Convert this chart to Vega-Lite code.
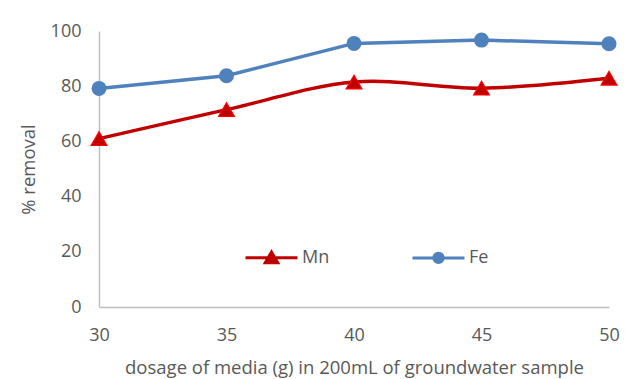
{
  "$schema": "https://vega.github.io/schema/vega-lite/v6.json",
  "autosize": "none",
  "width": 510,
  "height": 276,
  "padding": {"left": 99, "top": 31, "right": 28, "bottom": 72},
  "background": "white",
  "config": {
    "view": {"stroke": null},
    "font": "Open Sans",
    "axis": {
      "grid": false,
      "ticks": false,
      "domainColor": "#BFBFBF",
      "domainWidth": 1.5,
      "labelColor": "#595959",
      "titleColor": "#595959",
      "labelFont": "Open Sans",
      "titleFont": "Open Sans",
      "labelFontSize": 18,
      "titleFontSize": 18.5,
      "titleFontWeight": "normal",
      "labelFlush": false
    }
  },
  "data": {
    "values": [
      {"dose": 30, "element": "Mn", "removal": 61},
      {"dose": 35, "element": "Mn", "removal": 71.5},
      {"dose": 40, "element": "Mn", "removal": 81.5},
      {"dose": 45, "element": "Mn", "removal": 79.3},
      {"dose": 50, "element": "Mn", "removal": 82.9},
      {"dose": 30, "element": "Fe", "removal": 79.2},
      {"dose": 35, "element": "Fe", "removal": 83.8},
      {"dose": 40, "element": "Fe", "removal": 95.5},
      {"dose": 45, "element": "Fe", "removal": 96.7},
      {"dose": 50, "element": "Fe", "removal": 95.4}
    ]
  },
  "encoding": {
    "x": {
      "field": "dose",
      "type": "quantitative",
      "scale": {"domain": [30, 50], "nice": false, "zero": false},
      "axis": {"values": [30, 35, 40, 45, 50], "labelPadding": 19, "title": "dosage of media (g) in 200mL of groundwater sample", "titlePadding": 14}
    },
    "y": {
      "field": "removal",
      "type": "quantitative",
      "scale": {"domain": [0, 100], "nice": false},
      "axis": {"values": [0, 20, 40, 60, 80, 100], "labelPadding": 18, "title": "% removal", "titlePadding": 12}
    },
    "color": {
      "field": "element",
      "type": "nominal",
      "scale": {"domain": ["Mn", "Fe"], "range": ["#C00000", "#4F81BD"]}
    }
  },
  "layer": [
    {
      "transform": [{"filter": "datum.element === 'Mn'"}],
      "mark": {"type": "line", "strokeWidth": 3.5, "interpolate": "cardinal", "tension": 0},
      "encoding": {
        "color": {
          "field": "element",
          "type": "nominal",
          "scale": {"domain": ["Mn", "Fe"], "range": ["#C00000", "#4F81BD"]},
          "legend": {
            "orient": "none",
            "legendX": 145,
            "legendY": 199,
            "direction": "horizontal",
            "title": null,
            "padding": 0,
            "symbolSize": 2704,
            "symbolStrokeWidth": 3,
            "labelOffset": 3,
            "columnPadding": 76,
            "labelFontSize": 18,
            "labelFont": "Open Sans",
            "labelColor": "#595959",
            "encode": {
              "symbols": {
                "update": {
                  "shape": {"signal": "datum.value === 'Mn' ? 'M-1,0H1M0,-0.22L0.24,0.19L-0.24,0.19Z' : 'M-1,0H1M-0.18,0A0.18,0.18 0 1,0 0.18,0A0.18,0.18 0 1,0 -0.18,0Z'"},
                  "fill": {"signal": "datum.value === 'Mn' ? '#C00000' : '#4F81BD'"},
                  "stroke": {"signal": "datum.value === 'Mn' ? '#C00000' : '#4F81BD'"},
                  "strokeWidth": {"value": 3},
                  "opacity": {"value": 1}
                }
              }
            }
          }
        }
      }
    },
    {
      "transform": [{"filter": "datum.element === 'Fe'"}],
      "mark": {"type": "line", "strokeWidth": 3.5},
      "encoding": {}
    },
    {
      "transform": [{"filter": "datum.element === 'Mn'"}],
      "mark": {"type": "point", "shape": "triangle-up", "filled": true, "size": 250, "stroke": "#FF0000", "strokeWidth": 1.2, "opacity": 1},
      "encoding": {}
    },
    {
      "transform": [{"filter": "datum.element === 'Fe'"}],
      "mark": {"type": "point", "shape": "circle", "filled": true, "size": 225, "opacity": 1},
      "encoding": {}
    }
  ]
}
